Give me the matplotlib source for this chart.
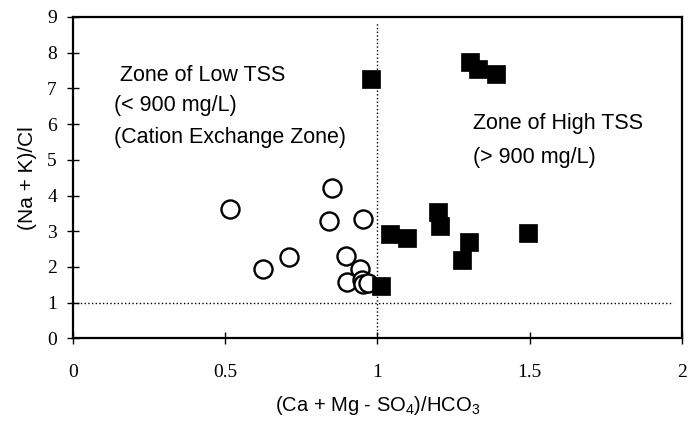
import matplotlib.pyplot as plt

plt.rcParams["mathtext.fontset"] = "custom"
plt.rcParams["mathtext.rm"] = "Liberation Sans"
plt.rcParams["mathtext.it"] = "Liberation Sans:italic"

# Low-TSS samples (open circles)
low_x = [0.516, 0.623, 0.71, 0.85, 0.842, 0.952, 0.898, 0.943, 0.899, 0.948, 0.953, 0.97]
low_y = [3.62, 1.93, 2.27, 4.22, 3.30, 3.35, 2.31, 1.93, 1.59, 1.63, 1.52, 1.54]

# High-TSS samples (filled squares)
high_x = [0.98, 1.304, 1.33, 1.39, 1.041, 1.097, 1.198, 1.205, 1.30, 1.277, 1.496, 1.012]
high_y = [7.26, 7.74, 7.54, 7.40, 2.93, 2.80, 3.54, 3.15, 2.70, 2.20, 2.95, 1.47]

x_ticks = [0, 0.5, 1, 1.5, 2]
x_tick_labels = ["0", "0.5", "1", "1.5", "2"]
y_ticks = list(range(0, 10))

fig = plt.figure(figsize=(6.88, 4.23), dpi=100)
ax = fig.add_axes([0.106, 0.200, 0.885, 0.760])

# reference lines
ax.axhline(1, color="black", linestyle=":", linewidth=1.0, xmax=0.985)
ax.axvline(1, color="black", linestyle=":", linewidth=1.0, ymax=0.985)

ax.plot(low_x, low_y, "o", ms=13, mfc="white", mec="black", mew=1.7, linestyle="none")
ax.plot(high_x, high_y, "s", ms=13, mfc="black", mec="black", mew=0.5, linestyle="none")

ax.set_xlim(0, 2)
ax.set_ylim(0, 9)
ax.set_xticks(x_ticks)
ax.set_xticklabels(x_tick_labels)
ax.set_yticks(y_ticks)

for s in ax.spines.values():
    s.set_linewidth(1.6)

ax.tick_params(direction="inout", length=9, width=1.0, labelsize=14)
ax.tick_params(axis="x", pad=14)
ax.tick_params(axis="y", pad=7)
for lab in ax.get_xticklabels() + ax.get_yticklabels():
    lab.set_family("Liberation Serif")

ax.set_xlabel("(Ca + Mg - SO$_4$)/HCO$_3$", fontsize=14.5, family="Liberation Sans", labelpad=9)
ax.set_ylabel("(Na + K)/Cl", fontsize=15, family="Liberation Sans", labelpad=7)

txt = dict(fontsize=15.5, family="Liberation Sans", va="baseline")
ax.text(0.154, 7.22, "Zone of Low TSS", **txt)
ax.text(0.135, 6.36, "(< 900 mg/L)", **txt)
ax.text(0.135, 5.47, "(Cation Exchange Zone)", **txt)
ax.text(1.314, 5.86, "Zone of High TSS", **txt)
ax.text(1.314, 4.92, "(> 900 mg/L)", **txt)

fig.savefig("out.png", dpi=100)
